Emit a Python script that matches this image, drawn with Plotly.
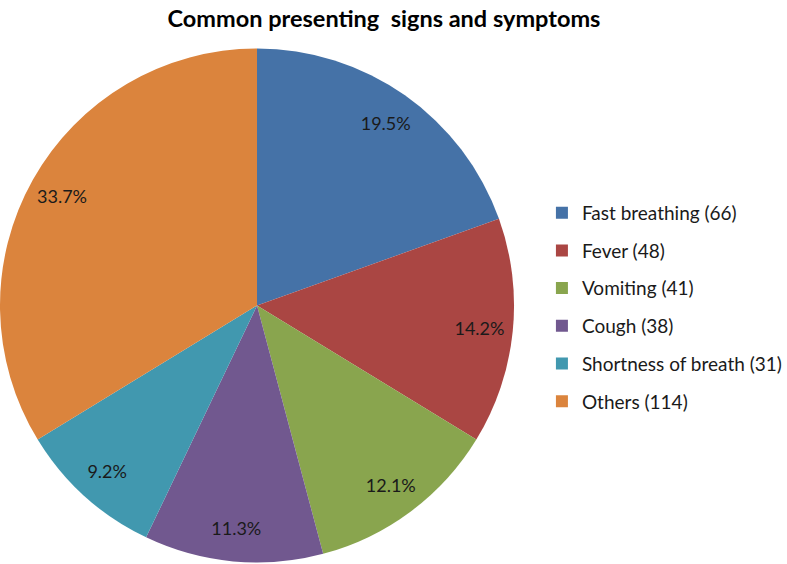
import plotly.graph_objects as go

categories = ["Fast breathing", "Fever", "Vomiting", "Cough", "Shortness of breath", "Others"]
counts = [66, 48, 41, 38, 31, 114]
pct_labels = ["19.5%", "14.2%", "12.1%", "11.3%", "9.2%", "33.7%"]
colors = ["#4572A7", "#AA4643", "#89A54E", "#71588F", "#4198AF", "#DB843D"]

legend_names = [f"{c} ({n})" for c, n in zip(categories, counts)]
pie_domain = dict(x=[0, 516 / 787], y=[0, 1])

fig = go.Figure()
# coloured slices
fig.add_trace(go.Pie(
    labels=legend_names,
    values=counts,
    textinfo="none",
    sort=False,
    direction="clockwise",
    rotation=0,
    marker=dict(colors=colors, line=dict(width=0)),
    showlegend=False,
    domain=pie_domain,
    hoverinfo="label+percent",
))
# transparent ring carrying the percentage labels near the rim
fig.add_trace(go.Pie(
    labels=legend_names,
    values=counts,
    text=pct_labels,
    textinfo="text",
    textposition="inside",
    insidetextorientation="horizontal",
    hole=0.74,
    sort=False,
    direction="clockwise",
    rotation=0,
    marker=dict(colors=["rgba(0,0,0,0)"] * len(counts), line=dict(width=0)),
    textfont=dict(family="Lato", size=18, color="#1a1a1a"),
    showlegend=False,
    domain=pie_domain,
    hoverinfo="skip",
))

for name, col in zip(legend_names, colors):
    fig.add_trace(go.Scatter(
        x=[None], y=[None], mode="markers", name=name,
        marker=dict(symbol="square", size=13, color=col),
        legendgroup=name, showlegend=True,
    ))

fig.update_layout(
    width=787, height=564,
    margin=dict(l=0, r=0, t=48, b=1),
    paper_bgcolor="white", plot_bgcolor="white",
    title=dict(text="<b>Common presenting  signs and symptoms</b>",
               x=384 / 787, xanchor="center", y=1 - 19 / 564, yanchor="middle",
               font=dict(family="Lato", size=23.5, color="#000")),
    xaxis=dict(visible=False), yaxis=dict(visible=False),
    legend=dict(x=544 / 787, y=1 - 284 / 564, xanchor="left", yanchor="middle",
                font=dict(family="Lato", size=19, color="#1a1a1a"),
                tracegroupgap=10, itemsizing="constant"),
)

fig.write_html("out.html", config={"displayModeBar": False},
               post_script="document.body.style.margin='0';")
